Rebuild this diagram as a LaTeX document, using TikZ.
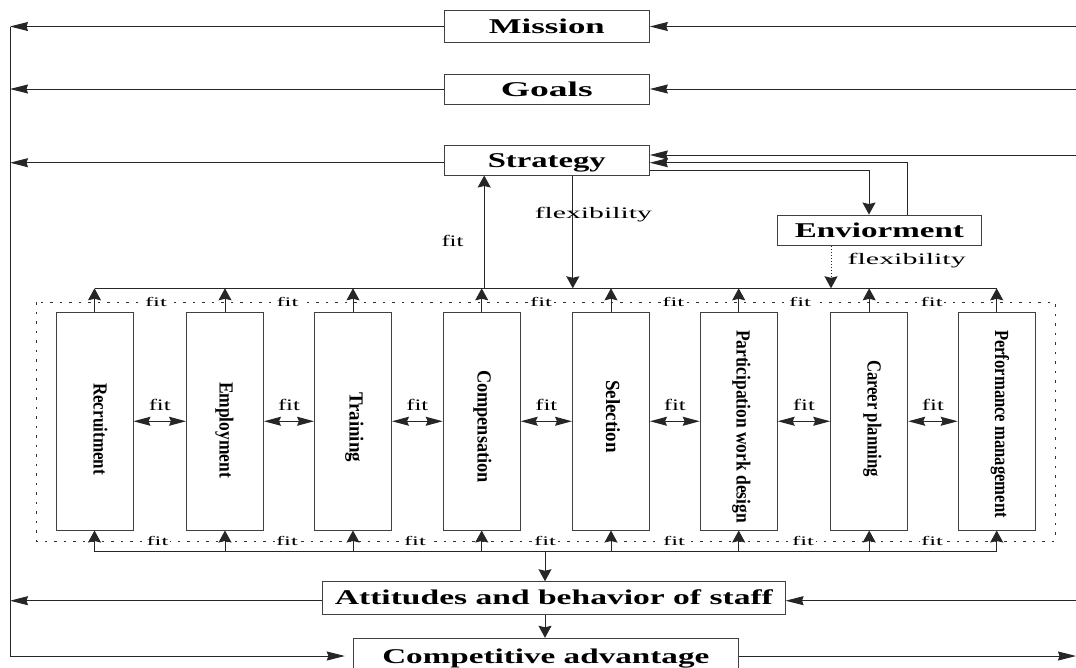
\documentclass[tikz,border=0pt]{standalone}
\usepackage{graphicx}
\usepackage{fontspec}
\setmainfont{Liberation Serif}
\usetikzlibrary{arrows.meta,calc}

% set a text and stretch it horizontally to a given width (in pt)
\newsavebox\wbox
\newcommand\stretchto[2]{\sbox\wbox{#2}\pgfmathsetmacro\wfactor{#1/\the\wd\wbox}\scalebox{\wfactor}[1]{\usebox\wbox}}

\begin{document}
\begin{tikzpicture}[x=1pt,y=-1pt,
  conn/.style={draw=black!85, line width=1pt},
  harrow/.style={conn, -{Stealth[length=18pt,width=9pt,inset=1.5pt]}},
  varrow/.style={conn, -{Stealth[length=12pt,width=13pt,inset=1.5pt]}},
  darrow/.style={conn, {Stealth[length=17pt,width=9pt,inset=2pt]}-{Stealth[length=17pt,width=9pt,inset=2pt]}},
  hbox/.style={draw=black!75, line width=1pt, inner sep=0pt,
    font=\fontsize{21}{21}\selectfont\bfseries, text height=14pt, text depth=0pt},
  hrbox/.style={draw=black!75, line width=1pt, minimum width=77pt,
    minimum height=217.5pt, inner sep=0pt},
  vlabel/.style={rotate=-90, inner sep=0pt,
    font=\fontsize{20}{20}\selectfont\bfseries, text height=13pt, text depth=0pt},
  fitlab/.style={inner sep=0pt, font=\fontsize{16}{16}\selectfont,
    text height=11pt, text depth=0pt},
  dotfit/.style={fill=white, inner xsep=1.5pt, inner ysep=1pt,
    font=\fontsize{13}{13}\selectfont, text height=9pt, text depth=0pt},
  hrmframe/.style={draw=black!80, line width=1pt, dash pattern=on 2.5pt off 7pt},
]
\useasboundingbox (0,0) rectangle (1076,667);

% spine on the left, edge on the right
\coordinate (spine) at (10,0);
\coordinate (redge) at (1076,0);

% top level boxes
\node[hbox, minimum width=205pt, minimum height=31.6pt] (mission) at (546.8,26.5) {\stretchto{116}{Mission}};
\node[hbox, minimum width=205pt, minimum height=30pt] (goals) at (546.8,89) {\stretchto{92}{Goals}};
\node[hbox, minimum width=205pt, minimum height=30pt] (strategy) at (546.8,160) {\stretchto{118}{Strategy}};
\node[hbox, minimum width=204.7pt, minimum height=30.7pt] (env) at (879.4,230.4) {\stretchto{169}{Enviorment}};
\node[hbox, minimum width=462.3pt, minimum height=32.3pt] (att) at (553.9,597.9) {\stretchto{438}{Attitudes and behavior of staff}};
\node[hbox, minimum width=385pt, minimum height=35.4pt] (comp) at (545.8,656) {\stretchto{327}{Competitive advantage}};

% HR practice boxes
\node[hrbox] (rec) at (94.5,421.25) {};
\node[hrbox] (emp) at (225,421.25) {};
\node[hrbox] (tra) at (353,421.25) {};
\node[hrbox] (com) at (481.7,421.25) {};
\node[hrbox] (sel) at (611,421.25) {};
\node[hrbox] (par) at (738.7,421.25) {};
\node[hrbox] (car) at (869.2,421.25) {};
\node[hrbox] (per) at (996.7,421.25) {};

\node[vlabel] (rec-t) at (100,429) {\stretchto{92}{Recruitment}};
\node[vlabel] (emp-t) at (226,430) {\stretchto{96}{Employment}};
\node[vlabel] (tra-t) at (356,427) {\stretchto{70}{Training}};
\node[vlabel] (com-t) at (484,426.5) {\stretchto{113}{Compensation}};
\node[vlabel] (sel-t) at (612.5,416.5) {\stretchto{73}{Selection}};
\node[vlabel] (par-t) at (743,426.5) {\stretchto{193}{Participation work design}};
\node[vlabel] (car-t) at (874,418.5) {\stretchto{117}{Career planning}};
\node[vlabel] (per-t) at (1001.5,424) {\stretchto{188}{Performance management}};

% dotted frame round the practices
\draw[hrmframe] (36.7,302) rectangle (1055,541);
\foreach \x in {156,287.5,541,673.3,800,931.7}
  \node[dotfit] at (\x,302) {\stretchto{22}{fit}};
\foreach \x in {157.5,287,415,545,674,803,932}
  \node[dotfit] at (\x,541) {\stretchto{22}{fit}};

% buses above and below the practices
\coordinate (busL) at (94.5,288.3);
\coordinate (busR) at (996.7,288.3);
\coordinate (bbL) at (94.5,551.7);
\coordinate (bbR) at (996.7,551.7);
\draw[conn] (busL) -- (busR);
\draw[conn] (bbL) -- (bbR);
\foreach \b in {rec,emp,tra,com,sel,par,car,per}{
  \draw[varrow] (\b.north) -- (\b.north |- busL);
  \draw[varrow] (\b.south |- bbL) -- (\b.south);
}

% fit between neighbouring practices
\foreach \a/\b in {rec/emp,emp/tra,tra/com,com/sel,sel/par,par/car,car/per}
  \draw[darrow] (\a.east) -- node[fitlab, midway, yshift=16pt] {\stretchto{22}{fit}} (\b.west);

% strategy and environment links
\draw[varrow] ([xshift=2.5pt]com.north |- busL) -- ([xshift=2.5pt]com.north |- strategy.south);
\node[fitlab] (fit-s) at (452.5,241) {\stretchto{22}{fit}};
\draw[varrow] ([xshift=26pt]strategy.south) -- ([xshift=26pt]strategy.south |- busL);
\node[fitlab] (flex-s) at (593.3,212.5) {\stretchto{117}{flexibility}};
\draw[harrow] ([xshift=28pt]env.north) |- ([yshift=-2.7pt]strategy.east);
\draw[varrow] ([yshift=-10.7pt]strategy.east) -| ([xshift=-10.4pt]env.north);
\draw[varrow, dotted] ([xshift=-48.4pt]env.south) -- ([xshift=-48.4pt]env.south |- busL);
\node[fitlab] (flex-e) at (906.7,259) {\stretchto{118}{flexibility}};

% feeds from the right edge
\draw[harrow] (mission.east -| redge) -- (mission.east);
\draw[harrow] (goals.east -| redge) -- (goals.east);
\draw[harrow] ([yshift=5pt]strategy.east -| redge) -- ([yshift=5pt]strategy.east);
\draw[harrow] ([yshift=-2.8pt]att.east -| redge) -- ([yshift=-2.8pt]att.east);
\draw[harrow] (comp.east) -- (comp.east -| redge);

% feeds to the left spine
\draw[conn] (mission.west -| spine) -- (comp.west -| spine);
\draw[harrow] (mission.west) -- (mission.west -| spine);
\draw[harrow] (goals.west) -- (goals.west -| spine);
\draw[harrow] ([yshift=-2.7pt]strategy.west) -- ([yshift=-2.7pt]strategy.west -| spine);
\draw[harrow] ([yshift=-2.8pt]att.west) -- ([yshift=-2.8pt]att.west -| spine);
\draw[harrow, shorten >=8pt] (comp.west -| spine) -- (comp.west);

% down to staff behaviour and advantage
\draw[varrow] ([xshift=-8.9pt]att.north |- bbL) -- ([xshift=-8.9pt]att.north);
\draw[varrow] ([xshift=-8.9pt]att.south) -- ([xshift=-8.9pt]att.south |- comp.north);
\end{tikzpicture}
\end{document}
